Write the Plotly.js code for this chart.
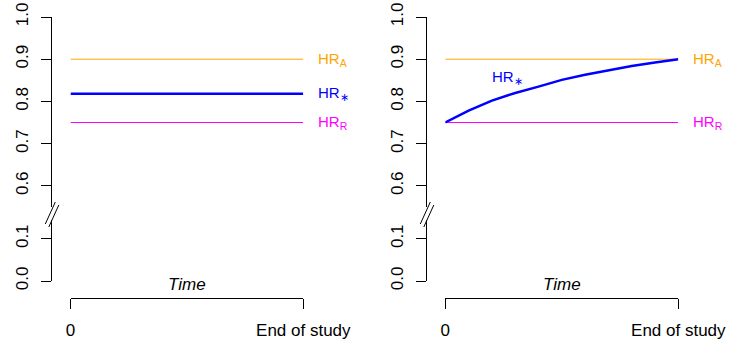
<!DOCTYPE html>
<html>
<head>
<meta charset="utf-8">
<script src="https://cdn.plot.ly/plotly-3.0.1.min.js"></script>
<style>html,body{margin:0;padding:0;background:#fff;}#chart{width:729px;height:345px;}</style>
</head>
<body>
<div id="chart"></div>
<script>
// ---- data ----
const timeTickVals = [0, 1];
const timeTickText = ['0', 'End of study'];
const upperTicks = [0.6, 0.7, 0.8, 0.9, 1.0];
const lowerTicks = [0.0, 0.1];
const hrA = 0.9;           // HR_A
const hrR = 0.75;          // HR_R
const hrStarConst = 0.818; // HR_* (left panel, constant)
const curveTime = [0, 0.1, 0.2, 0.3, 0.4, 0.5, 0.6, 0.7, 0.8, 0.9, 1.0];
const curveHR   = [0.750, 0.778, 0.802, 0.820, 0.835, 0.851, 0.863, 0.874, 0.884, 0.892, 0.900];

// ---- layout helpers (pixels -> paper) ----
const W = 729, H = 345;
const px = v => v / W;
const py = v => 1 - v / H;
const FONT = 'Liberation Sans, Arial, sans-serif';
const orange = '#FFA500', blue = '#0000FF', magenta = '#FF00FF';

const panels = [
  {ax: 51.3, x0: 70.5, x1: 303.3},
  {ax: 426.3, x0: 445.3, x1: 678.3}
];
const upperTop = 17, upperBot = 207, lowerTop = 220, lowerBot = 281, pxPerTenth = 42.2;
const upperRange = [1.0 - (upperBot - upperTop) / pxPerTenth * 0.1, 1.0];
const lowerRange = [0, (lowerBot - lowerTop) / pxPerTenth * 0.1];

function hline(val, color, width, xa, ya) {
  return {x: [0, 1], y: [val, val], xaxis: xa, yaxis: ya, mode: 'lines',
          line: {color: color, width: width}, hoverinfo: 'skip', showlegend: false};
}

const traces = [
  hline(hrA, orange, 1, 'x', 'y'),
  hline(hrStarConst, blue, 2.5, 'x', 'y'),
  hline(hrR, magenta, 1, 'x', 'y'),
  {x: [], y: [], xaxis: 'x', yaxis: 'y3', mode: 'lines', showlegend: false, hoverinfo: 'skip'},
  hline(hrA, orange, 1, 'x2', 'y2'),
  hline(hrR, magenta, 1, 'x2', 'y2'),
  {x: curveTime, y: curveHR, xaxis: 'x2', yaxis: 'y2', mode: 'lines',
   line: {color: blue, width: 2.5}, hoverinfo: 'skip', showlegend: false},
  {x: [], y: [], xaxis: 'x2', yaxis: 'y4', mode: 'lines', showlegend: false, hoverinfo: 'skip'}
];

function xAxis(p) {
  return {domain: [px(p.x0), px(p.x1)], range: [0, 1], anchor: 'free', position: py(298),
          showline: true, linecolor: '#000', linewidth: 1, showgrid: false, zeroline: false,
          ticks: 'outside', ticklen: 10, tickwidth: 1, tickcolor: '#000',
          tickvals: timeTickVals, ticktext: timeTickText, ticklabelstandoff: 7,
          tickfont: {family: FONT, size: 17, color: '#000'}, fixedrange: true};
}
function yAxis(p, dom, rng, ticks) {
  return {domain: dom, range: rng, anchor: 'free', position: px(p.ax),
          showline: true, linecolor: '#000', linewidth: 1, showgrid: false, zeroline: false,
          ticks: 'outside', ticklen: 10, tickwidth: 1, tickcolor: '#000',
          tickvals: ticks, ticktext: ticks.map(v => v.toFixed(1)), tickangle: -90,
          ticklabelstandoff: 7,
          tickfont: {family: FONT, size: 17, color: '#000'}, fixedrange: true};
}
const upDom = [py(upperBot), py(upperTop)], loDom = [py(lowerBot), py(lowerTop)];

const shapes = [];
panels.forEach(p => {
  [[-6, 224, 4, 202], [-2.5, 227, 7.5, 205]].forEach(s => {
    shapes.push({type: 'line', xref: 'paper', yref: 'paper',
      x0: px(p.ax + s[0]), y0: py(s[1]), x1: px(p.ax + s[2]), y1: py(s[3]),
      line: {color: '#000', width: 1}});
  });
});

const annotations = [];
function hrLabel(xa, ya, yv, txt, color, xshift, xv) {
  annotations.push({xref: xa, yref: ya, x: xv === undefined ? 1 : xv, y: yv, text: txt, showarrow: false,
    xanchor: 'left', yanchor: 'middle', xshift: xshift,
    font: {family: FONT, size: 15, color: color}});
}
const subA = 'HR<sub>A</sub>', subR = 'HR<sub>R</sub>', subStar = 'HR<sub>∗</sub>';
hrLabel('x', 'y', hrA, subA, orange, 13);
hrLabel('x', 'y', hrStarConst, subStar, blue, 13);
hrLabel('x', 'y', hrR, subR, magenta, 13);
hrLabel('x2', 'y2', hrA, subA, orange, 13);
hrLabel('x2', 'y2', hrR, subR, magenta, 13);
hrLabel('x2', 'y2', 0.856, subStar, blue, 0, 0.19);
['x domain', 'x2 domain'].forEach(xr => {
  annotations.push({xref: xr, yref: 'paper', x: 0.5, y: py(284), text: '<i>Time</i>',
    showarrow: false, xanchor: 'center', yanchor: 'middle',
    font: {family: FONT, size: 17, color: '#000'}});
});

const layout = {
  width: W, height: H, margin: {l: 0, r: 0, t: 0, b: 0},
  paper_bgcolor: '#fff', plot_bgcolor: 'rgba(0,0,0,0)', showlegend: false,
  xaxis: xAxis(panels[0]), xaxis2: xAxis(panels[1]),
  yaxis: yAxis(panels[0], upDom, upperRange, upperTicks),
  yaxis3: yAxis(panels[0], loDom, lowerRange, lowerTicks),
  yaxis2: yAxis(panels[1], upDom, upperRange, upperTicks),
  yaxis4: yAxis(panels[1], loDom, lowerRange, lowerTicks),
  shapes: shapes, annotations: annotations
};
Plotly.newPlot('chart', traces, layout, {staticPlot: true, displayModeBar: false});
</script>
</body>
</html>
